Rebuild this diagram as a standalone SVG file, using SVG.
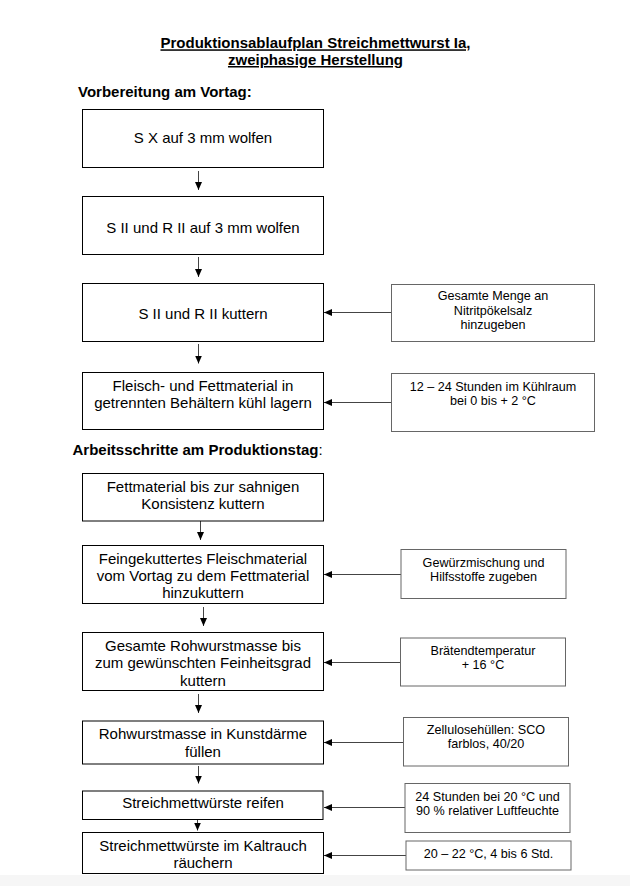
<svg xmlns="http://www.w3.org/2000/svg" width="630" height="886" viewBox="0 0 630 886">
<style>
text{font-family:"Liberation Sans",Arial,sans-serif;fill:#000}
.t{font-size:15px;font-weight:bold}
.m{font-size:15px;text-anchor:middle}
.s{font-size:12.6px;text-anchor:middle}
.box{fill:#fff;stroke:#000;stroke-width:1}
.side{fill:#fff;stroke:#666;stroke-width:1}
.c{stroke:#444;stroke-width:1;fill:none;marker-end:url(#ah)}
</style>
<defs>
<marker id="ah" markerUnits="userSpaceOnUse" markerWidth="8" markerHeight="7" refX="8" refY="3.5" orient="auto">
<path d="M0,0 L8,3.5 L0,7 Z" fill="#000"/>
</marker>
</defs>
<rect x="0" y="0" width="630" height="886" fill="#fff"/>
<rect x="0" y="875" width="630" height="11" fill="#f6f6f6"/>
<g id="title">
<text class="t" x="315.5" y="48.3" text-anchor="middle" text-decoration="underline">Produktionsablaufplan Streichmettwurst Ia,</text>
<text class="t" x="315.5" y="65" text-anchor="middle" text-decoration="underline">zweiphasige Herstellung</text>
<text class="t" x="78" y="97">Vorbereitung am Vortag:</text>
<text class="t" x="72.5" y="455">Arbeitsschritte am Produktionstag<tspan font-weight="normal">:</tspan></text>
</g>
<g id="connectors">
<line class="c" x1="198.5" y1="171" x2="198.5" y2="190"/>
<line class="c" x1="198.5" y1="257" x2="198.5" y2="277"/>
<line class="c" x1="198.5" y1="344" x2="198.5" y2="363.5"/>
<line class="c" x1="200.5" y1="521" x2="200.5" y2="540"/>
<line class="c" x1="203.5" y1="607" x2="203.5" y2="626"/>
<line class="c" x1="198.5" y1="694" x2="198.5" y2="713"/>
<line class="c" x1="198.5" y1="766" x2="198.5" y2="783.5"/>
<line class="c" x1="197.5" y1="819.5" x2="197.5" y2="830.5"/>
<line class="c" x1="391" y1="312.5" x2="324" y2="312.5"/>
<line class="c" x1="391" y1="402.5" x2="324" y2="402.5"/>
<line class="c" x1="401" y1="574.5" x2="324" y2="574.5"/>
<line class="c" x1="400.5" y1="662.5" x2="324" y2="662.5"/>
<line class="c" x1="403.5" y1="742.5" x2="324" y2="742.5"/>
<line class="c" x1="405" y1="807.5" x2="324" y2="807.5"/>
<line class="c" x1="406" y1="855.5" x2="324" y2="855.5"/>
</g>
<g id="n1"><rect class="box" x="82.5" y="109.5" width="241" height="58"/><text class="m" x="203" y="143.3">S X auf 3 mm wolfen</text></g>
<g id="n2"><rect class="box" x="82.5" y="196.5" width="241" height="58"/><text class="m" x="203" y="232.7">S II und R II auf 3 mm wolfen</text></g>
<g id="n3"><rect class="box" x="82.5" y="283.5" width="241" height="58"/><text class="m" x="203" y="319.3">S II und R II kuttern</text></g>
<g id="n4"><rect class="box" x="82.5" y="372.5" width="241" height="57"/><text class="m" x="203" y="390.7">Fleisch- und Fettmaterial in</text><text class="m" x="203" y="408">getrennten Behältern kühl lagern</text></g>
<g id="s3"><rect class="side" x="391.5" y="284.5" width="203" height="57"/><text class="s" x="493" y="300">Gesamte Menge an</text><text class="s" x="493" y="314.5">Nitritpökelsalz</text><text class="s" x="493" y="329">hinzugeben</text></g>
<g id="s4"><rect class="side" x="391.5" y="373.5" width="203" height="58"/><text class="s" x="493" y="390.5">12 – 24 Stunden im Kühlraum</text><text class="s" x="493" y="405">bei 0 bis + 2 °C</text></g>
<g id="n5"><rect class="box" x="82.5" y="473.5" width="241" height="47.5"/><text class="m" x="203" y="492.3">Fettmaterial bis zur sahnigen</text><text class="m" x="203" y="509">Konsistenz kuttern</text></g>
<g id="n6"><rect class="box" x="82.5" y="545.5" width="241" height="58"/><text class="m" x="203" y="564.3">Feingekuttertes Fleischmaterial</text><text class="m" x="203" y="581">vom Vortag zu dem Fettmaterial</text><text class="m" x="203" y="597.7">hinzukuttern</text></g>
<g id="s6"><rect class="side" x="401" y="549.5" width="165" height="49"/><text class="s" x="483.5" y="567.3">Gewürzmischung und</text><text class="s" x="483.5" y="580.7">Hilfsstoffe zugeben</text></g>
<g id="n7"><rect class="box" x="82.5" y="632.5" width="241" height="58"/><text class="m" x="203" y="650.7">Gesamte Rohwurstmasse bis</text><text class="m" x="203" y="668.3">zum gewünschten Feinheitsgrad</text><text class="m" x="203" y="686">kuttern</text></g>
<g id="s7"><rect class="side" x="400.5" y="638" width="165" height="48"/><text class="s" x="483" y="655">Brätendtemperatur</text><text class="s" x="483" y="669.3">+ 16 °C</text></g>
<g id="n8"><rect class="box" x="82.5" y="721" width="241" height="43"/><text class="m" x="203" y="739.3">Rohwurstmasse in Kunstdärme</text><text class="m" x="203" y="756.7">füllen</text></g>
<g id="s8"><rect class="side" x="403.5" y="717.5" width="165" height="48.5"/><text class="s" x="486" y="734">Zellulosehüllen: SCO</text><text class="s" x="486" y="748">farblos, 40/20</text></g>
<g id="n9"><rect class="box" x="82.5" y="791" width="240.5" height="28.5"/><text class="m" x="203" y="808.3">Streichmettwürste reifen</text></g>
<g id="s9"><rect class="side" x="405" y="783.5" width="165" height="49"/><text class="s" x="487.5" y="801">24 Stunden bei 20 °C und</text><text class="s" x="487.5" y="815.3">90 % relativer Luftfeuchte</text></g>
<g id="n10"><rect class="box" x="82.5" y="832.5" width="241" height="41"/><text class="m" x="203" y="851">Streichmettwürste im Kaltrauch</text><text class="m" x="203" y="868.3">räuchern</text></g>
<g id="s10"><rect class="side" x="406" y="841" width="165" height="29"/><text class="s" x="488.5" y="858.3">20 – 22 °C, 4 bis 6 Std.</text></g>
</svg>
